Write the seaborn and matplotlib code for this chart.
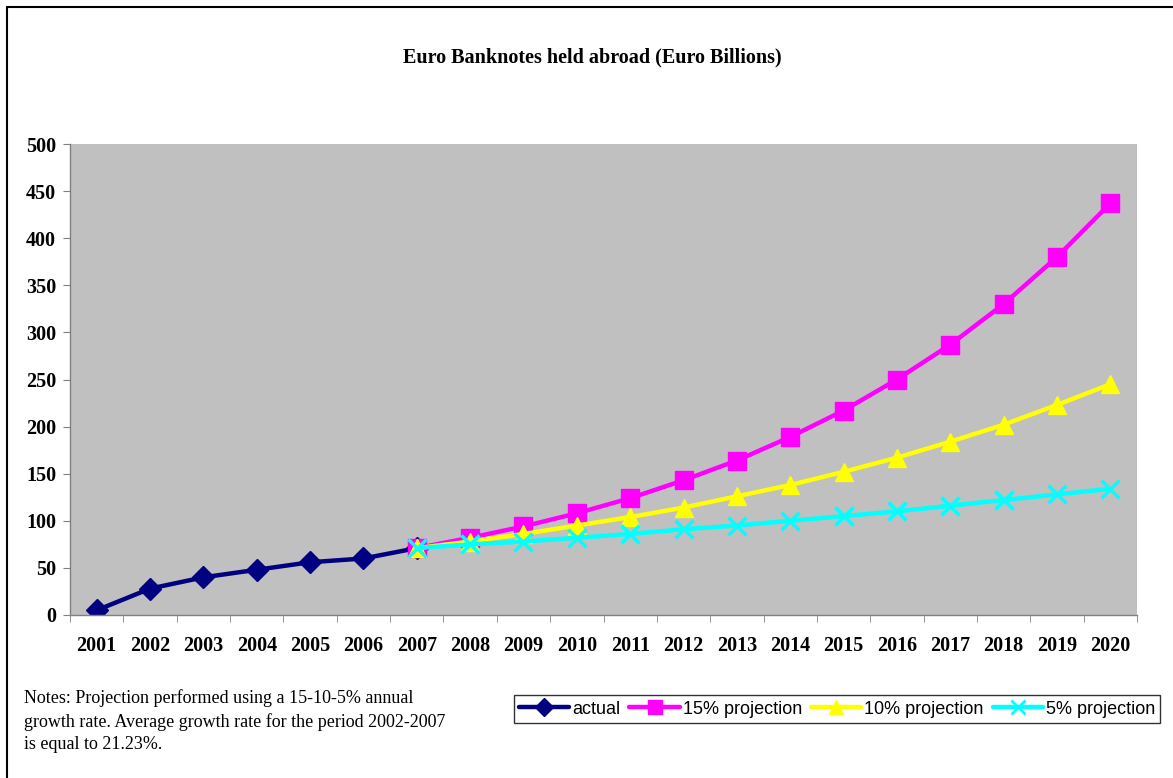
import numpy as np
import pandas as pd
import seaborn as sns
import matplotlib.pyplot as plt
from matplotlib.lines import Line2D

years = [str(y) for y in range(2001, 2021)]
actual = [5, 28, 40, 48, 56, 60, 71]
proj_15 = [71, 82, 94, 108, 124, 143, 164, 189, 217, 250, 287, 330, 380, 437]
proj_10 = [71, 78, 86, 95, 104, 114, 126, 138, 152, 167, 184, 202, 223, 245]
proj_5 = [71, 75, 78, 82, 86, 91, 95, 100, 105, 110, 116, 122, 128, 134]

series = {
    'actual': (actual, 0),
    '15% projection': (proj_15, 6),
    '10% projection': (proj_10, 6),
    '5% projection': (proj_5, 6),
}
rows = []
for name, (vals, start) in series.items():
    for i, v in enumerate(vals):
        rows.append({'idx': start + i, 'value': v, 'series': name})
df = pd.DataFrame(rows)

colors = {'actual': '#000080', '15% projection': '#FF00FF',
          '10% projection': '#FFFF00', '5% projection': '#00FFFF'}
markers = {'actual': 'D', '15% projection': 's',
           '10% projection': '^', '5% projection': 'x'}
msizes = {'actual': 11.5, '15% projection': 12.5, '10% projection': 13, '5% projection': 12.5}

sns.set_style('white')
plt.rcParams['font.family'] = ['Liberation Serif', 'DejaVu Serif']
plt.rcParams['text.color'] = 'black'
plt.rcParams['xtick.labelcolor'] = 'black'
plt.rcParams['ytick.labelcolor'] = 'black'

fig = plt.figure(figsize=(11.73, 7.78), dpi=100)
ax = fig.add_axes([70 / 1173, 1 - 615 / 778, (1137 - 70) / 1173, (615 - 144) / 778])
ax.set_facecolor('#C0C0C0')

for name in series:
    sub = df[df['series'] == name]
    sns.lineplot(data=sub, x='idx', y='value', ax=ax, color=colors[name],
                 marker=markers[name], markersize=msizes[name], linewidth=3.2,
                 markeredgecolor=colors[name], markeredgewidth=2.5 if name == '5% projection' else 1,
                 label=name, legend=False)

ax.set_xlim(-0.5, len(years) - 0.5)
ax.set_ylim(0, 500)
ax.set_yticks(range(0, 501, 50))
ax.set_xticks(range(len(years)))
ax.set_xticklabels(years)
ax.set_xticks(np.arange(-0.5, len(years), 1), minor=True)
ax.tick_params(axis='x', which='major', length=0, pad=15, labelsize=14.5)
ax.tick_params(axis='x', which='minor', length=5, color='#808080', direction='out', bottom=True)
ax.tick_params(axis='y', length=5, color='#808080', direction='out', left=True, labelsize=14.5, pad=5)
for lab in ax.get_xticklabels() + ax.get_yticklabels():
    lab.set_fontweight('bold')
ax.set_xlabel('')
ax.set_ylabel('')
for side in ['top', 'right']:
    ax.spines[side].set_visible(False)
for side in ['left', 'bottom']:
    ax.spines[side].set_color('#808080')
    ax.spines[side].set_linewidth(1)

fig.text(592 / 1173, 1 - 57 / 778, 'Euro Banknotes held abroad (Euro Billions)',
         ha='center', va='center', fontsize=14.5, fontweight='bold')

fig.text(24 / 1173, 1 - 689 / 778,
         'Notes: Projection performed using a 15-10-5% annual\n'
         'growth rate. Average growth rate for the period 2002-2007\n'
         'is equal to 21.23%.',
         ha='left', va='top', fontsize=13, linespacing=1.42)

handles = [Line2D([], [], color=colors[n], marker=markers[n], markersize=9.5, linewidth=3.2,
                  markeredgewidth=2 if n == '5% projection' else 1) for n in series]
leg = fig.legend(handles, list(series.keys()), loc='center',
                 bbox_to_anchor=(837 / 1173, 1 - 709 / 778), ncol=4, frameon=True,
                 fancybox=False, edgecolor='black', handlelength=2.8, handletextpad=0.15,
                 columnspacing=0.5, borderpad=0.3, prop={'family': 'Liberation Sans', 'size': 13})
leg.get_frame().set_linewidth(1)

fig.add_artist(Line2D([7 / 1173, 7 / 1173], [0, 1 - 7 / 778], color='black', lw=1.5,
                      transform=fig.transFigure))
fig.add_artist(Line2D([7 / 1173, 1], [1 - 7 / 778, 1 - 7 / 778], color='black', lw=1.5,
                      transform=fig.transFigure))

fig.savefig('out.png', dpi=100)
